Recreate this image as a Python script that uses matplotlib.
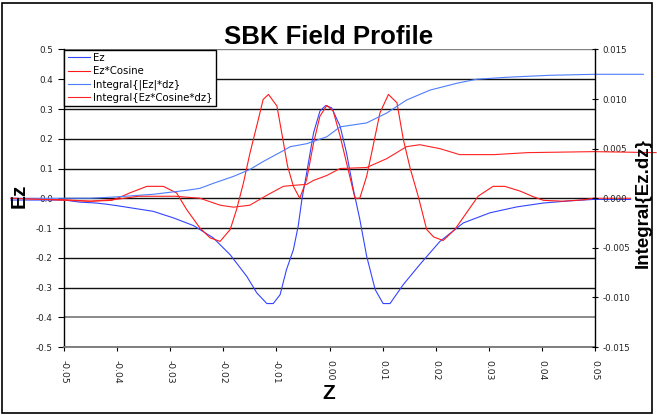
import matplotlib
matplotlib.use('Agg')
import matplotlib.pyplot as plt
from matplotlib.patches import Rectangle

plt.rcParams['font.family'] = ['Liberation Sans', 'DejaVu Sans']

# Ez (left axis)
ez_z = [-0.060, -0.050, -0.047, -0.044, -0.042, -0.040, -0.0332, -0.0294, -0.0256,
        -0.0219, -0.0187, -0.0156, -0.0137, -0.0118, -0.0106, -0.0093, -0.0081,
        -0.0068, -0.0059, -0.0052, -0.0043, -0.0030, -0.0018, -0.0007, 0.0004,
        0.0020, 0.0032, 0.0045, 0.0057, 0.0070, 0.0086, 0.0101, 0.0114, 0.0139,
        0.0170, 0.0208, 0.0252, 0.0302, 0.0353, 0.0403, 0.0450, 0.0497, 0.0567]
ez_v = [-0.006, -0.006, -0.013, -0.016, -0.020, -0.025, -0.044, -0.066, -0.092,
        -0.133, -0.190, -0.262, -0.318, -0.354, -0.354, -0.324, -0.240,
        -0.173, -0.094, -0.004, 0.085, 0.220, 0.293, 0.312, 0.304,
        0.242, 0.153, 0.029, -0.070, -0.195, -0.307, -0.354, -0.354, -0.290,
        -0.223, -0.145, -0.083, -0.049, -0.029, -0.016, -0.009, -0.004, -0.004]

# Ez*Cosine (left axis)
ezc_z = [-0.060, -0.050, -0.045, -0.041, -0.039, -0.0376, -0.0344, -0.0313, -0.0288,
         -0.0269, -0.0244, -0.0225, -0.0206, -0.0187, -0.0175, -0.0162, -0.0150,
         -0.0134, -0.0125, -0.0115, -0.0099, -0.0090, -0.0079, -0.0068, -0.0056,
         -0.0043, -0.0030, -0.0018, -0.0005, 0.0007, 0.0020, 0.0035, 0.0048,
         0.0057, 0.0070, 0.0082, 0.0095, 0.0111, 0.0127, 0.0139, 0.0152, 0.0167,
         0.0183, 0.0196, 0.0214, 0.0236, 0.0258, 0.0280, 0.0308, 0.0330, 0.0359,
         0.0384, 0.0403, 0.0440, 0.0480, 0.0497, 0.0567]
ezc_v = [0.000, -0.005, -0.010, -0.007, 0.007, 0.018, 0.040, 0.040, 0.018,
         -0.038, -0.100, -0.133, -0.145, -0.105, -0.038, 0.052, 0.150,
         0.265, 0.332, 0.349, 0.310, 0.220, 0.108, 0.040, 0.000,
         0.063, 0.186, 0.276, 0.312, 0.293, 0.209, 0.097, 0.000,
         0.000, 0.074, 0.175, 0.287, 0.349, 0.321, 0.198, 0.100, 0.007,
         -0.105, -0.130, -0.142, -0.105, -0.049, 0.007, 0.040, 0.040, 0.024,
         0.005, -0.007, -0.010, -0.005, 0.000, 0.000]

# Integral{|Ez|*dz} (right axis)
iabs_z = [-0.060, -0.045, -0.0401, -0.0332, -0.0269, -0.0244, -0.0219, -0.0181,
          -0.0150, -0.0125, -0.0087, -0.0074, -0.0043, -0.0005, 0.0020, 0.0070,
          0.0108, 0.0145, 0.0189, 0.0240, 0.0277, 0.0334, 0.0415, 0.0500, 0.0591]
iabs_v = [0.0, 0.0, 0.00014, 0.0004, 0.0008, 0.0010, 0.0015, 0.0022,
          0.0029, 0.0037, 0.0048, 0.0052, 0.0055, 0.0062, 0.0072, 0.0076,
          0.0086, 0.0099, 0.0109, 0.0116, 0.0120, 0.0122, 0.0124, 0.0125, 0.0125]

# Integral{Ez*Cosine*dz} (right axis)
icos_z = [-0.060, -0.050, -0.045, -0.040, -0.036, -0.029, -0.0244, -0.0206,
          -0.0181, -0.0150, -0.0118, -0.0087, -0.0068, -0.0043, -0.0030, -0.0005,
          0.0020, 0.0070, 0.0108, 0.0145, 0.0170, 0.0208, 0.0245, 0.0310,
          0.0373, 0.0497, 0.0615]
icos_v = [0.0, -0.0002, -0.0003, -0.0001, 0.0002, 0.0002, 0.0, -0.0007,
          -0.0009, -0.0007, 0.0003, 0.0012, 0.0013, 0.0014, 0.0018, 0.0023,
          0.0030, 0.0031, 0.0040, 0.0052, 0.0054, 0.0050, 0.0044, 0.0044,
          0.0046, 0.0047, 0.0046]

left_ticks = [-0.5, -0.4, -0.3, -0.2, -0.1, 0.0, 0.1, 0.2, 0.3, 0.4, 0.5]
right_ticks = [-0.015, -0.010, -0.005, 0.000, 0.005, 0.010, 0.015]
x_ticks = [-0.05, -0.04, -0.03, -0.02, -0.01, 0.00, 0.01, 0.02, 0.03, 0.04, 0.05]

W, H = 657, 415
fig = plt.figure(figsize=(W / 100, H / 100), dpi=100)
fig.patches.append(Rectangle((0.003, 0.006), 0.99, 0.986, transform=fig.transFigure,
                             fill=False, edgecolor='black', linewidth=1.2))
ax = fig.add_axes([64 / W, 1 - 347 / H, 531 / W, 297.5 / H])
ax2 = ax.twinx()

for y in left_ticks:
    col = '#808080' if y in (0.5, -0.4) else '#111111'
    lw = 1.3 if y == -0.4 else 1.0
    ax.axhline(y, color=col, linewidth=lw, zorder=1)

l1, = ax.plot(ez_z, ez_v, color='#3344ff', linewidth=0.8, clip_on=False, zorder=3)
l2, = ax.plot(ezc_z, ezc_v, color='#ff1a1a', linewidth=0.8, clip_on=False, zorder=3)
l3, = ax2.plot(iabs_z, iabs_v, color='#4d7dff', linewidth=0.8, clip_on=False)
l4, = ax2.plot(icos_z, icos_v, color='#ff2222', linewidth=0.8, clip_on=False)

ax.set_xlim(-0.05, 0.05)
ax.set_ylim(-0.5, 0.5)
ax2.set_ylim(-0.015, 0.015)

tick_font = dict(family='DejaVu Sans', color='#222222')
ax.set_xticks(x_ticks)
ax.set_xticklabels(['%.2f' % v for v in x_ticks], rotation=-90, fontsize=6.6, **tick_font)
ax.set_yticks(left_ticks)
ax.set_yticklabels(['%.1f' % v for v in left_ticks], fontsize=6.3, **tick_font)
ax2.set_yticks(right_ticks)
ax2.set_yticklabels(['%.3f' % v for v in right_ticks], fontsize=6.2, **tick_font)
ax.tick_params(axis='x', length=3, width=0.8, pad=6)
ax.tick_params(axis='y', length=4, width=0.8, pad=4)
ax2.tick_params(axis='y', length=5, width=0.8, direction='inout', pad=3)

for a in (ax, ax2):
    a.spines['top'].set_visible(False)
ax.spines['bottom'].set_color('#777777')
ax.spines['bottom'].set_linewidth(1.3)
ax2.spines['bottom'].set_visible(False)
ax.spines['right'].set_visible(False)
ax2.spines['left'].set_visible(False)
ax.spines['left'].set_linewidth(1.0)
ax2.spines['right'].set_linewidth(1.0)

fig.text(329 / W, 1 - 37 / H, 'SBK Field Profile', ha='center', va='center',
         fontsize=18.5, fontweight='bold')
fig.text(329 / W, 1 - 393 / H, 'Z', ha='center', va='center',
         fontsize=15, fontweight='bold')
fig.text(19 / W, 1 - 196 / H, 'Ez', ha='center', va='center', rotation=90,
         fontsize=15, fontweight='bold')
fig.text(643 / W, 1 - 203 / H, 'Integral{Ez.dz}', ha='center', va='center',
         rotation=90, fontsize=13.5, fontweight='bold')

leg = ax2.legend([l1, l2, l3, l4],
                 ['Ez', 'Ez*Cosine', 'Integral{|Ez|*dz}', 'Integral{Ez*Cosine*dz}'],
                 loc='upper left', bbox_to_anchor=(0.0, 1.0),
                 prop={'family': 'DejaVu Sans', 'size': 7.3},
                 frameon=True, fancybox=False, framealpha=1, edgecolor='black',
                 borderpad=0.35, labelspacing=0.3, handlelength=2.2, handletextpad=0.3,
                 borderaxespad=0.0)
leg.get_frame().set_linewidth(1.0)

fig.savefig('out.png', dpi=100)
